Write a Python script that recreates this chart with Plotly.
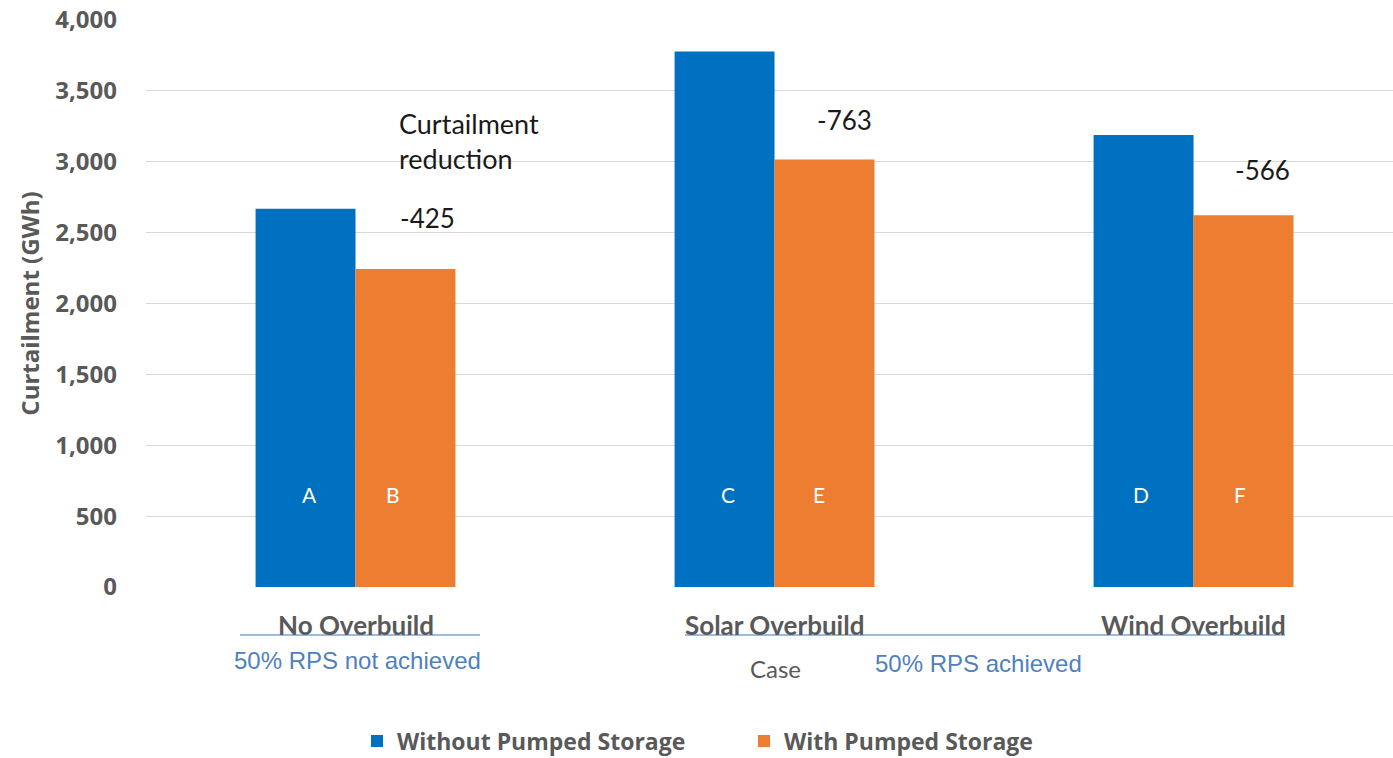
import plotly.graph_objects as go

# Curtailment by case, with and without pumped storage (GWh)
cases = ["No Overbuild", "Solar Overbuild", "Wind Overbuild"]
without_ps = [2668, 3778, 3188]
with_ps = [2243, 3015, 2622]
letters_without = ["A", "C", "D"]
letters_with = ["B", "E", "F"]
y_ticks = [0, 500, 1000, 1500, 2000, 2500, 3000, 3500, 4000]

BLUE = "#0070C0"
ORANGE = "#ED7D31"
GREY = "#595959"
NOTE_BLUE = "#4F81BD"
CALIBRI_LIKE = "Lato, Carlito, sans-serif"

# plot area in pixels
L, T, W, H = 146, 20, 1247, 567

x = list(range(len(cases)))

fig = go.Figure()
fig.add_trace(go.Bar(x=x, y=without_ps, name="<b>Without Pumped Storage</b>",
                     marker=dict(color=BLUE, line=dict(width=0))))
fig.add_trace(go.Bar(x=x, y=with_ps, name="<b>With Pumped Storage</b>",
                     marker=dict(color=ORANGE, line=dict(width=0))))

# letters inside the bars
letter_dx_a = [-0.111, -0.111, -0.125]
letter_dx_b = [0.09, 0.106, 0.111]
for i in x:
    fig.add_annotation(x=i + letter_dx_a[i], y=650, text=letters_without[i], showarrow=False,
                       font=dict(family=CALIBRI_LIKE, size=21, color="white"))
    fig.add_annotation(x=i + letter_dx_b[i], y=650, text=letters_with[i], showarrow=False,
                       font=dict(family=CALIBRI_LIKE, size=21, color="white"))

# reduction labels above the orange bars
label_shift = [51, 40, 45]
label_dx = [0.171, 0.168, 0.164]
for i in x:
    diff = with_ps[i] - without_ps[i]
    fig.add_annotation(x=i + label_dx[i], y=with_ps[i], yanchor="middle", yshift=label_shift[i],
                       text=f"{diff:d}", showarrow=False,
                       font=dict(family=CALIBRI_LIKE, size=26, color="#1a1a1a"))

fig.add_annotation(x=0.1, y=3400, xanchor="left", yanchor="top", align="left",
                   text="Curtailment<br>reduction", showarrow=False,
                   font=dict(family=CALIBRI_LIKE, size=27, color="#1a1a1a"))


def px_x(p):
    return (p - L) / W


def px_y(p):
    return (T + H - p) / H


# category labels, "Case" title and RPS notes beneath the axis
for i, c in enumerate(cases):
    fig.add_annotation(x=i, xref="x", yref="paper", y=px_y(625), yanchor="middle",
                       xanchor="center", text=f"<b>{c}</b>", showarrow=False,
                       font=dict(family=CALIBRI_LIKE, size=26, color=GREY))
for x0, x1 in [(240, 480), (685, 1285)]:
    fig.add_shape(type="line", xref="paper", yref="paper", x0=px_x(x0), x1=px_x(x1),
                  y0=px_y(635), y1=px_y(635), line=dict(color="#7FA3D6", width=1.5))
fig.add_annotation(xref="paper", yref="paper", x=px_x(357), y=px_y(661),
                   xanchor="center", yanchor="middle",
                   text="50% RPS not achieved", showarrow=False,
                   font=dict(family="Liberation Sans, Arial", size=24, color=NOTE_BLUE))
fig.add_annotation(xref="paper", yref="paper", x=px_x(978), y=px_y(663),
                   xanchor="center", yanchor="middle",
                   text="50% RPS achieved", showarrow=False,
                   font=dict(family="Liberation Sans, Arial", size=24, color=NOTE_BLUE))
fig.add_annotation(xref="paper", yref="paper", x=px_x(775), y=px_y(668),
                   xanchor="center", yanchor="middle",
                   text="Case", showarrow=False,
                   font=dict(family=CALIBRI_LIKE, size=24, color=GREY))

fig.update_layout(
    width=1393, height=758,
    margin=dict(l=L, r=0, t=T, b=758 - T - H, autoexpand=False),
    plot_bgcolor="white", paper_bgcolor="white",
    barmode="group", bargap=0.523, bargroupgap=0,
    showlegend=True,
    legend=dict(orientation="h", x=px_x(357), xanchor="left",
                y=px_y(741), yanchor="middle",
                entrywidth=342, entrywidthmode="pixels",
                font=dict(family="Open Sans", size=23, color=GREY),
                traceorder="normal"),
    xaxis=dict(range=[-0.5, 2.476], showticklabels=False, showgrid=False,
               showline=False, ticks="", zeroline=False),
    yaxis=dict(range=[0, 4000], tickvals=y_ticks, tickformat=",", showgrid=True,
               gridcolor="#D9D9D9", gridwidth=1.3, zeroline=False, showline=False,
               ticks="", ticklen=0, ticklabelstandoff=28,
               tickfont=dict(family="Open Sans", size=24, color=GREY, weight="bold"),
               title=dict(text="<b>Curtailment (GWh)</b>", standoff=8,
                          font=dict(family="Open Sans", size=24, color=GREY))),
)

fig.write_html("out.html")
